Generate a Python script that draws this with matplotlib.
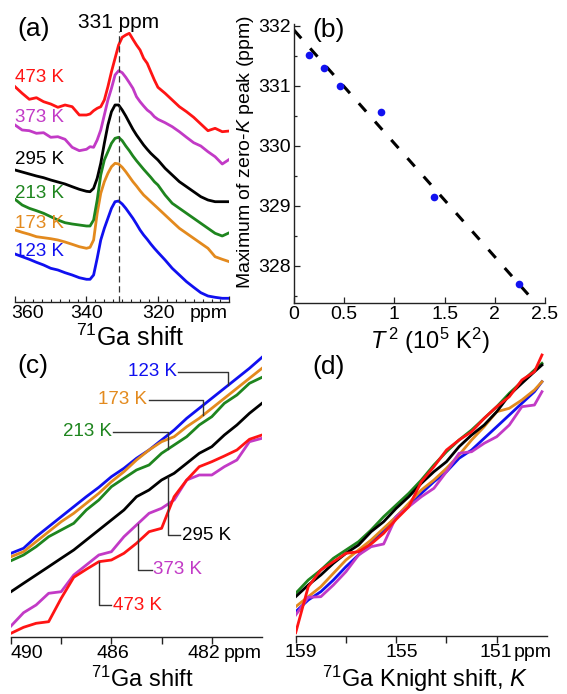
import numpy as np
import matplotlib
matplotlib.use("Agg")
import matplotlib.pyplot as plt
from matplotlib import transforms

plt.rcParams['font.family'] = ['Liberation Sans', 'DejaVu Sans']
plt.rcParams['mathtext.fontset'] = 'custom'
plt.rcParams['mathtext.rm'] = 'Liberation Sans'
plt.rcParams['mathtext.it'] = 'Liberation Sans:italic'
plt.rcParams['mathtext.bf'] = 'Liberation Sans:bold'

W, H = 567, 694

# ---------------------------------------------------------------- data
temps_k = [123, 173, 213, 295, 373, 473]
temp_labels = ['123 K', '173 K', '213 K', '295 K', '373 K', '473 K']
colors = ['#1010f0', '#e38a1e', '#1e851e', '#000000', '#c23ac6', '#ff1414']

# (a) 71Ga spectra, stacked (arbitrary intensity units)
shift_a = [360, 358, 356, 354, 352, 350, 348, 346, 344, 342,
           340, 339, 338, 337, 336, 335, 334, 333, 332, 331, 330, 329, 328,
           327, 326, 325, 324, 323, 322, 321, 320,
           318, 316, 314, 312, 310, 308, 306, 304, 302, 300]
spec_123 = [48.0, 45.3, 42.7, 39.7, 37.0, 33.7, 32.0, 29.3, 27.0, 24.3,
            22.7, 22.7, 27.0, 43.7, 62.0, 73.7, 83.7, 93.7, 100.3, 101.0, 98.0, 93.7, 88.7,
            83.7, 78.0, 72.0, 67.0, 62.7, 58.0, 53.7, 49.7,
            42.0, 33.7, 27.0, 20.3, 14.7, 9.3, 6.0, 4.7, 3.7, 3.7]
spec_173 = [72.0, 69.7, 67.7, 65.3, 64.3, 63.3, 62.0, 60.0, 57.7, 55.3,
            53.7, 54.7, 62.0, 88.7, 108.7, 120.3, 128.7, 135.3, 138.7, 138.0, 134.7, 130.3, 125.3,
            120.3, 116.0, 111.3, 107.0, 103.7, 100.3, 97.0, 93.7,
            87.0, 80.3, 73.7, 68.7, 63.7, 58.7, 53.7, 45.3, 42.7, 40.3]
spec_213 = [102.7, 97.0, 93.7, 91.3, 88.7, 85.3, 82.0, 79.3, 78.0, 77.0,
            76.0, 76.0, 82.0, 102.0, 127.0, 142.0, 150.3, 158.7, 163.7, 164.7, 161.3, 156.0, 151.3,
            146.0, 141.3, 137.0, 132.7, 128.7, 124.7, 120.3, 117.0,
            107.0, 98.7, 93.7, 88.7, 83.7, 78.7, 73.7, 68.7, 66.0, 69.3]
spec_295 = [132.0, 130.0, 128.0, 126.0, 124.3, 122.0, 120.0, 118.0, 115.3, 112.7,
            110.7, 110.3, 113.7, 123.7, 138.7, 158.7, 177.0, 190.3, 197.0, 197.0, 192.0, 186.0, 179.3,
            172.7, 167.0, 162.0, 157.0, 152.7, 148.7, 145.3, 142.0,
            133.7, 127.0, 120.3, 115.3, 110.3, 105.3, 102.0, 100.3, 100.3, 100.3]
spec_373 = [177.0, 172.0, 171.3, 168.7, 169.3, 164.7, 165.3, 162.7, 154.7, 151.3,
            152.7, 155.3, 154.7, 162.0, 172.0, 187.0, 202.0, 213.7, 227.0, 231.3, 229.3, 224.7, 219.3,
            213.7, 205.3, 200.3, 196.0, 192.0, 189.3, 185.3, 182.7,
            179.3, 175.3, 170.3, 164.7, 159.3, 156.0, 150.3, 145.3, 138.0, 142.7]
spec_473 = [215.3, 208.7, 202.7, 204.3, 200.3, 198.0, 194.7, 197.0, 195.3, 187.0,
            187.0, 188.0, 191.3, 193.7, 195.3, 202.0, 215.3, 230.3, 243.7, 257.0, 264.7, 267.0, 268.7,
            262.7, 257.0, 252.0, 243.7, 238.7, 230.3, 222.0, 214.7,
            208.7, 202.0, 195.3, 190.3, 184.7, 178.0, 171.3, 173.7, 170.3, 171.0]
spectra_a = [spec_123, spec_173, spec_213, spec_295, spec_373, spec_473]
ref_shift = 331

# (b) position of the zero-K peak maximum versus T^2
peak_max = [331.51, 331.30, 330.99, 330.57, 329.15, 327.70]
fit_intercept = 331.93
fit_slope = -1.89          # ppm per 10^5 K^2
fit_range = [0.0, 2.42]

# (c) high-frequency edge of the spectra
shift_c = [490, 489.5, 489, 488.5, 488, 487.5, 487, 486.5, 486, 485.5, 485,
           484.5, 484, 483.5, 483, 482.5, 482, 481.5, 481, 480.5, 480]
edge_123 = [83.7, 88.7, 100.3, 110.3, 120.3, 130.3, 140.3, 149.7, 160.3, 168.7, 178.7,
            187.0, 197.0, 207.0, 218.7, 228.7, 238.7, 248.7, 258.7, 268.7, 279.7]
edge_173 = [80.3, 85.3, 95.3, 105.3, 115.3, 123.7, 133.7, 143.7, 155.3, 165.3, 177.0,
            187.0, 195.3, 200.3, 210.3, 218.7, 228.7, 238.7, 248.7, 258.7, 268.7]
edge_213 = [76.3, 82.0, 90.3, 100.3, 107.0, 113.7, 127.0, 137.0, 150.3, 158.7, 167.0,
            172.0, 183.7, 192.0, 200.3, 212.0, 220.3, 233.7, 242.0, 253.7, 259.7]
edge_295 = [45.3, 53.7, 62.0, 70.3, 78.7, 87.0, 97.0, 107.0, 117.0, 127.0, 140.3,
            147.0, 157.0, 163.7, 173.7, 183.7, 190.3, 202.0, 212.0, 223.7, 233.7]
edge_373 = [11.0, 24.3, 32.0, 43.7, 45.3, 62.0, 72.0, 82.0, 85.3, 100.3, 112.0,
            123.7, 128.7, 137.0, 157.0, 162.0, 162.0, 170.3, 177.0, 195.3, 198.7]
edge_473 = [3.7, 9.7, 13.7, 15.3, 38.7, 59.7, 67.7, 75.3, 77.0, 83.7, 93.7,
            105.3, 108.7, 140.3, 157.0, 170.3, 175.3, 181.0, 187.0, 197.7, 202.0]
edges_c = [edge_123, edge_173, edge_213, edge_295, edge_373, edge_473]

# (d) the same edges on the Knight-shift scale
knight_d = [159, 158.5, 158, 157.5, 157, 156.5, 156, 155.5, 155, 154.5, 154,
            153.5, 153, 152.5, 152, 151.5, 151, 150.5, 150, 149.5, 149.2]
kedge_123 = [24.3, 36.0, 44.3, 56.0, 69.3, 81.0, 92.7, 106.0, 119.3, 131.0, 142.7,
             154.3, 164.3, 177.7, 186.0, 197.7, 209.3, 221.0, 232.7, 244.3, 254.3]
kedge_173 = [29.3, 39.3, 49.3, 62.7, 76.0, 86.0, 96.0, 107.7, 119.3, 132.7, 146.0,
             156.0, 167.7, 181.0, 196.0, 209.3, 224.3, 227.7, 236.0, 246.0, 254.3]
kedge_213 = [42.7, 56.0, 66.0, 77.7, 86.0, 94.3, 106.0, 119.3, 131.0, 142.7, 156.0,
             171.0, 184.3, 196.0, 206.0, 217.7, 229.3, 242.7, 254.3, 266.0, 272.7]
kedge_295 = [39.3, 51.0, 61.0, 72.7, 82.7, 91.0, 104.3, 114.3, 127.7, 139.3, 152.7,
             164.3, 174.3, 189.3, 201.0, 211.0, 224.3, 241.0, 252.7, 264.3, 271.0]
kedge_373 = [21.0, 38.7, 39.3, 51.0, 64.3, 81.0, 89.3, 92.0, 119.3, 129.3, 139.3,
             147.7, 164.3, 182.7, 184.3, 192.7, 199.3, 211.0, 229.3, 231.0, 244.3]
kedge_473 = [3.3, 49.3, 66.0, 74.3, 82.7, 84.3, 92.0, 102.7, 116.7, 129.3, 154.3,
             169.3, 186.0, 196.0, 204.3, 217.7, 229.3, 239.3, 256.0, 264.3, 281.0]
edges_d = [kedge_123, kedge_173, kedge_213, kedge_295, kedge_373, kedge_473]

# ---------------------------------------------------------------- figure
fig = plt.figure(figsize=(W / 100, H / 100), dpi=100)


def px_axes(left, top, right, bottom):
    return fig.add_axes([left / W, 1 - bottom / H, (right - left) / W, (bottom - top) / H])


def ftext(x, y, s, size=13.5, ha='center', va='center', **kw):
    fig.text(x / W, 1 - y / H, s, fontsize=size, ha=ha, va=va, **kw)


def tick_text(ax, xval, s, dx=0.0, dy=-11.5, size=14):
    tr = transforms.blended_transform_factory(ax.transData, ax.transAxes)
    tr = tr + transforms.ScaledTranslation(dx / 100, dy / 100, fig.dpi_scale_trans)
    ax.text(xval, 0, s, transform=tr, ha='center', va='center', fontsize=size,
            clip_on=False)


LW = 2.0
SPINE = 1.0
SPINE_C = '#222222'
LOW_DY = -16.5

# ----- (a)
ax_a = px_axes(15, 15, 229.4, 302)
for spec, c in zip(spectra_a, colors):
    ax_a.plot(shift_a, spec, color=c, lw=LW, solid_joinstyle='round')
ax_a.vlines(ref_shift, 0, 271, colors='#333333', lw=0.9, linestyles=(0, (5, 3)))
ax_a.set_xlim(360, 300)
ax_a.set_ylim(0, 287)
for s in ['left', 'right', 'top']:
    ax_a.spines[s].set_visible(False)
ax_a.spines['bottom'].set_linewidth(SPINE)
ax_a.spines['bottom'].set_color(SPINE_C)
ax_a.set_yticks([])
ax_a.set_xticks([360, 340, 320, 300])
ax_a.set_xticks(np.arange(300, 360.1, 2.5), minor=True)
ax_a.tick_params(axis='x', which='major', direction='in', length=4, width=0.9,
                 labelbottom=False, color=SPINE_C)
ax_a.tick_params(axis='x', which='minor', direction='in', length=2.5, width=0.8, color=SPINE_C)
tick_text(ax_a, 360, '360', dx=13)
tick_text(ax_a, 340, '340')
tick_text(ax_a, 320, '320', dx=1)
tick_text(ax_a, 305, 'ppm', dx=-3)
label_y_a = [251, 224, 193, 160, 118, 78]
for lab, c, yy in zip(temp_labels, colors, label_y_a):
    ftext(15, yy, lab, ha='left', color=c)
ftext(119, 22, '331 ppm', size=15)
ftext(34, 29, '(a)', size=19)
ftext(130, 338, r'$^{71}$Ga shift', size=18)

# ----- (b)
ax_b = px_axes(294, 23.5, 545, 303)
t2 = np.array(temps_k, dtype=float) ** 2 / 1e5
fx = np.array(fit_range)
ax_b.plot(fx, fit_intercept + fit_slope * fx, color='black', lw=2.2,
          dashes=(3.6, 4.4), dash_capstyle='butt')
ax_b.plot(t2, peak_max, 'o', color='#1212f0', ms=5.5, mec='none')
ax_b.set_xlim(0, 2.5)
ax_b.set_ylim(327.38, 332.04)
for s in ['right', 'top']:
    ax_b.spines[s].set_visible(False)
for s in ['left', 'bottom']:
    ax_b.spines[s].set_linewidth(SPINE)
    ax_b.spines[s].set_color(SPINE_C)
ax_b.set_xticks([0, 0.5, 1, 1.5, 2, 2.5])
ax_b.set_xticklabels(['0', '0.5', '1', '1.5', '2', '2.5'])
ax_b.set_yticks([328, 329, 330, 331, 332])
ax_b.set_yticks(np.arange(327.5, 332.01, 0.5), minor=True)
ax_b.tick_params(axis='both', which='both', direction='in', labelsize=14,
                 width=0.9, color=SPINE_C)
ax_b.tick_params(axis='both', which='major', length=4, pad=2.5)
ax_b.tick_params(axis='y', which='minor', length=2.5)
ftext(245, 152, r'Maximum of zero-$K$ peak (ppm)', size=14, rotation=90)
ftext(329, 30, '(b)', size=19)
ftext(430, 341, r'$T^{\,2}$ (10$^5$ K$^2$)', size=17)

# ----- (c)
ax_c = px_axes(11, 347, 262, 637)
for edge, c in zip(edges_c, colors):
    ax_c.plot(shift_c, edge, color=c, lw=LW, solid_joinstyle='round')
ax_c.set_xlim(490, 480)
ax_c.set_ylim(0, 290)
for s in ['left', 'right', 'top']:
    ax_c.spines[s].set_visible(False)
ax_c.spines['bottom'].set_linewidth(SPINE)
ax_c.spines['bottom'].set_color(SPINE_C)
ax_c.set_yticks([])
ax_c.set_xticks([490, 488, 486, 484, 482])
ax_c.tick_params(axis='x', direction='out', length=5, width=1.0, labelbottom=False,
                 color=SPINE_C)
tick_text(ax_c, 490, '490', dx=16, dy=LOW_DY)
tick_text(ax_c, 486, '486', dx=1, dy=LOW_DY)
tick_text(ax_c, 482, '482', dx=-8, dy=LOW_DY)
tick_text(ax_c, 480, 'ppm', dx=-19, dy=LOW_DY)

# leader lines: (text x, text y, corner x, side) in data units
leaders_c = [
    (483.40, 265, 481.35, 'left'),
    (484.58, 237, 482.35, 'left'),
    (485.98, 205, 483.75, 'left'),
    (483.19, 102, 483.75, 'right'),
    (484.34, 67, 484.94, 'right'),
    (485.94, 32, 486.50, 'right'),
]
for (tx, ty, cx, side), edge, c, lab in zip(leaders_c, edges_c, colors, temp_labels):
    xs = shift_c[::-1]
    ys = edge[::-1]
    cy = float(np.interp(cx, xs, ys))
    gap = 0.06
    if side == 'left':
        ax_c.plot([tx - gap, cx, cx], [ty, ty, cy], color='#333333', lw=1.0)
        ax_c.text(tx, ty, lab, color=c, fontsize=13.5, ha='right', va='center')
    else:
        ax_c.plot([tx + gap, cx, cx], [ty, ty, cy], color='#333333', lw=1.0)
        ax_c.text(tx, ty, lab, color=c, fontsize=13.5, ha='left', va='center')
ftext(33, 366, '(c)', size=19)
ftext(142, 679, r'$^{71}$Ga shift', size=17)

# ----- (d)
ax_d = px_axes(295.7, 346, 547, 636)
for edge, c in zip(edges_d, colors):
    ax_d.plot(knight_d, edge, color=c, lw=LW, solid_joinstyle='round')
ax_d.set_xlim(159, 149)
ax_d.set_ylim(0, 290)
for s in ['left', 'right', 'top']:
    ax_d.spines[s].set_visible(False)
ax_d.spines['bottom'].set_linewidth(SPINE)
ax_d.spines['bottom'].set_color(SPINE_C)
ax_d.set_yticks([])
ax_d.set_xticks([159, 157, 155, 153, 151])
ax_d.tick_params(axis='x', direction='out', length=5, width=1.0, labelbottom=False,
                 color=SPINE_C)
tick_text(ax_d, 159, '159', dx=5, dy=LOW_DY)
tick_text(ax_d, 155, '155', dx=6, dy=LOW_DY)
tick_text(ax_d, 151, '151', dx=-1, dy=LOW_DY)
tick_text(ax_d, 149, 'ppm', dx=-14, dy=LOW_DY)
ftext(329, 367, '(d)', size=19)
ftext(425, 679, r'$^{71}$Ga Knight shift, $K$', size=17)

fig.savefig('out.png', dpi=100)
